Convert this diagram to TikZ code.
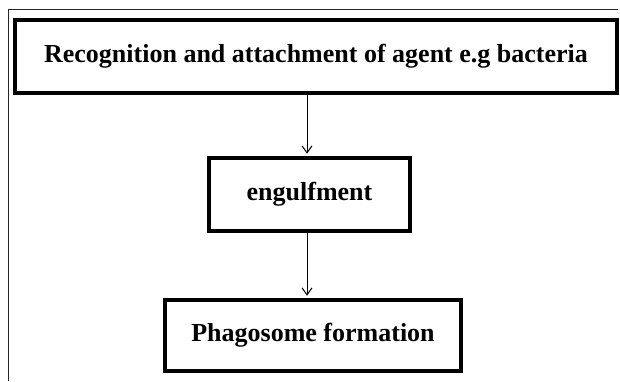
\documentclass[tikz,border=0pt]{standalone}
\usepackage{fontspec}
\setmainfont{Liberation Serif}
\usetikzlibrary{arrows,arrows.meta,positioning,calc}

\begin{document}
\begin{tikzpicture}[->,>={Straight Barb[length=7pt,width=10pt]},shorten >=2.5pt,auto,x=1pt,y=-1pt,
   line width=1pt, font=\bfseries\fontsize{26}{30}\selectfont,
   stepbox/.style={draw, line width=3.6pt, minimum height=73pt, inner sep=0pt}]
  \useasboundingbox (0,0) rectangle (620,381);
  % open frame round the chart
  \coordinate (f1) at (8,381);
  \coordinate (f2) at (8,9);
  \coordinate (f3) at (620,9);
  \draw[-, line width=0.9pt, black!85] (f1) -- (f2) -- (f3);
  \node[stepbox, minimum width=602pt] (s1) at (316, 56.5) {Recognition and attachment of agent e.g bacteria};
  \node[stepbox, minimum width=201pt] (s2) at (309.5, 194.5) {engulfment};
  \node[stepbox, minimum width=296pt, minimum height=71pt] (s3) at (313, 335.5) {Phagosome formation};
  % arrows run on one vertical line
  \coordinate (ax) at (307, 0);
  \path (s1.south -| ax) edge (s2.north -| ax);
  \path (s2.south -| ax) edge (s3.north -| ax);
\end{tikzpicture}
\end{document}
